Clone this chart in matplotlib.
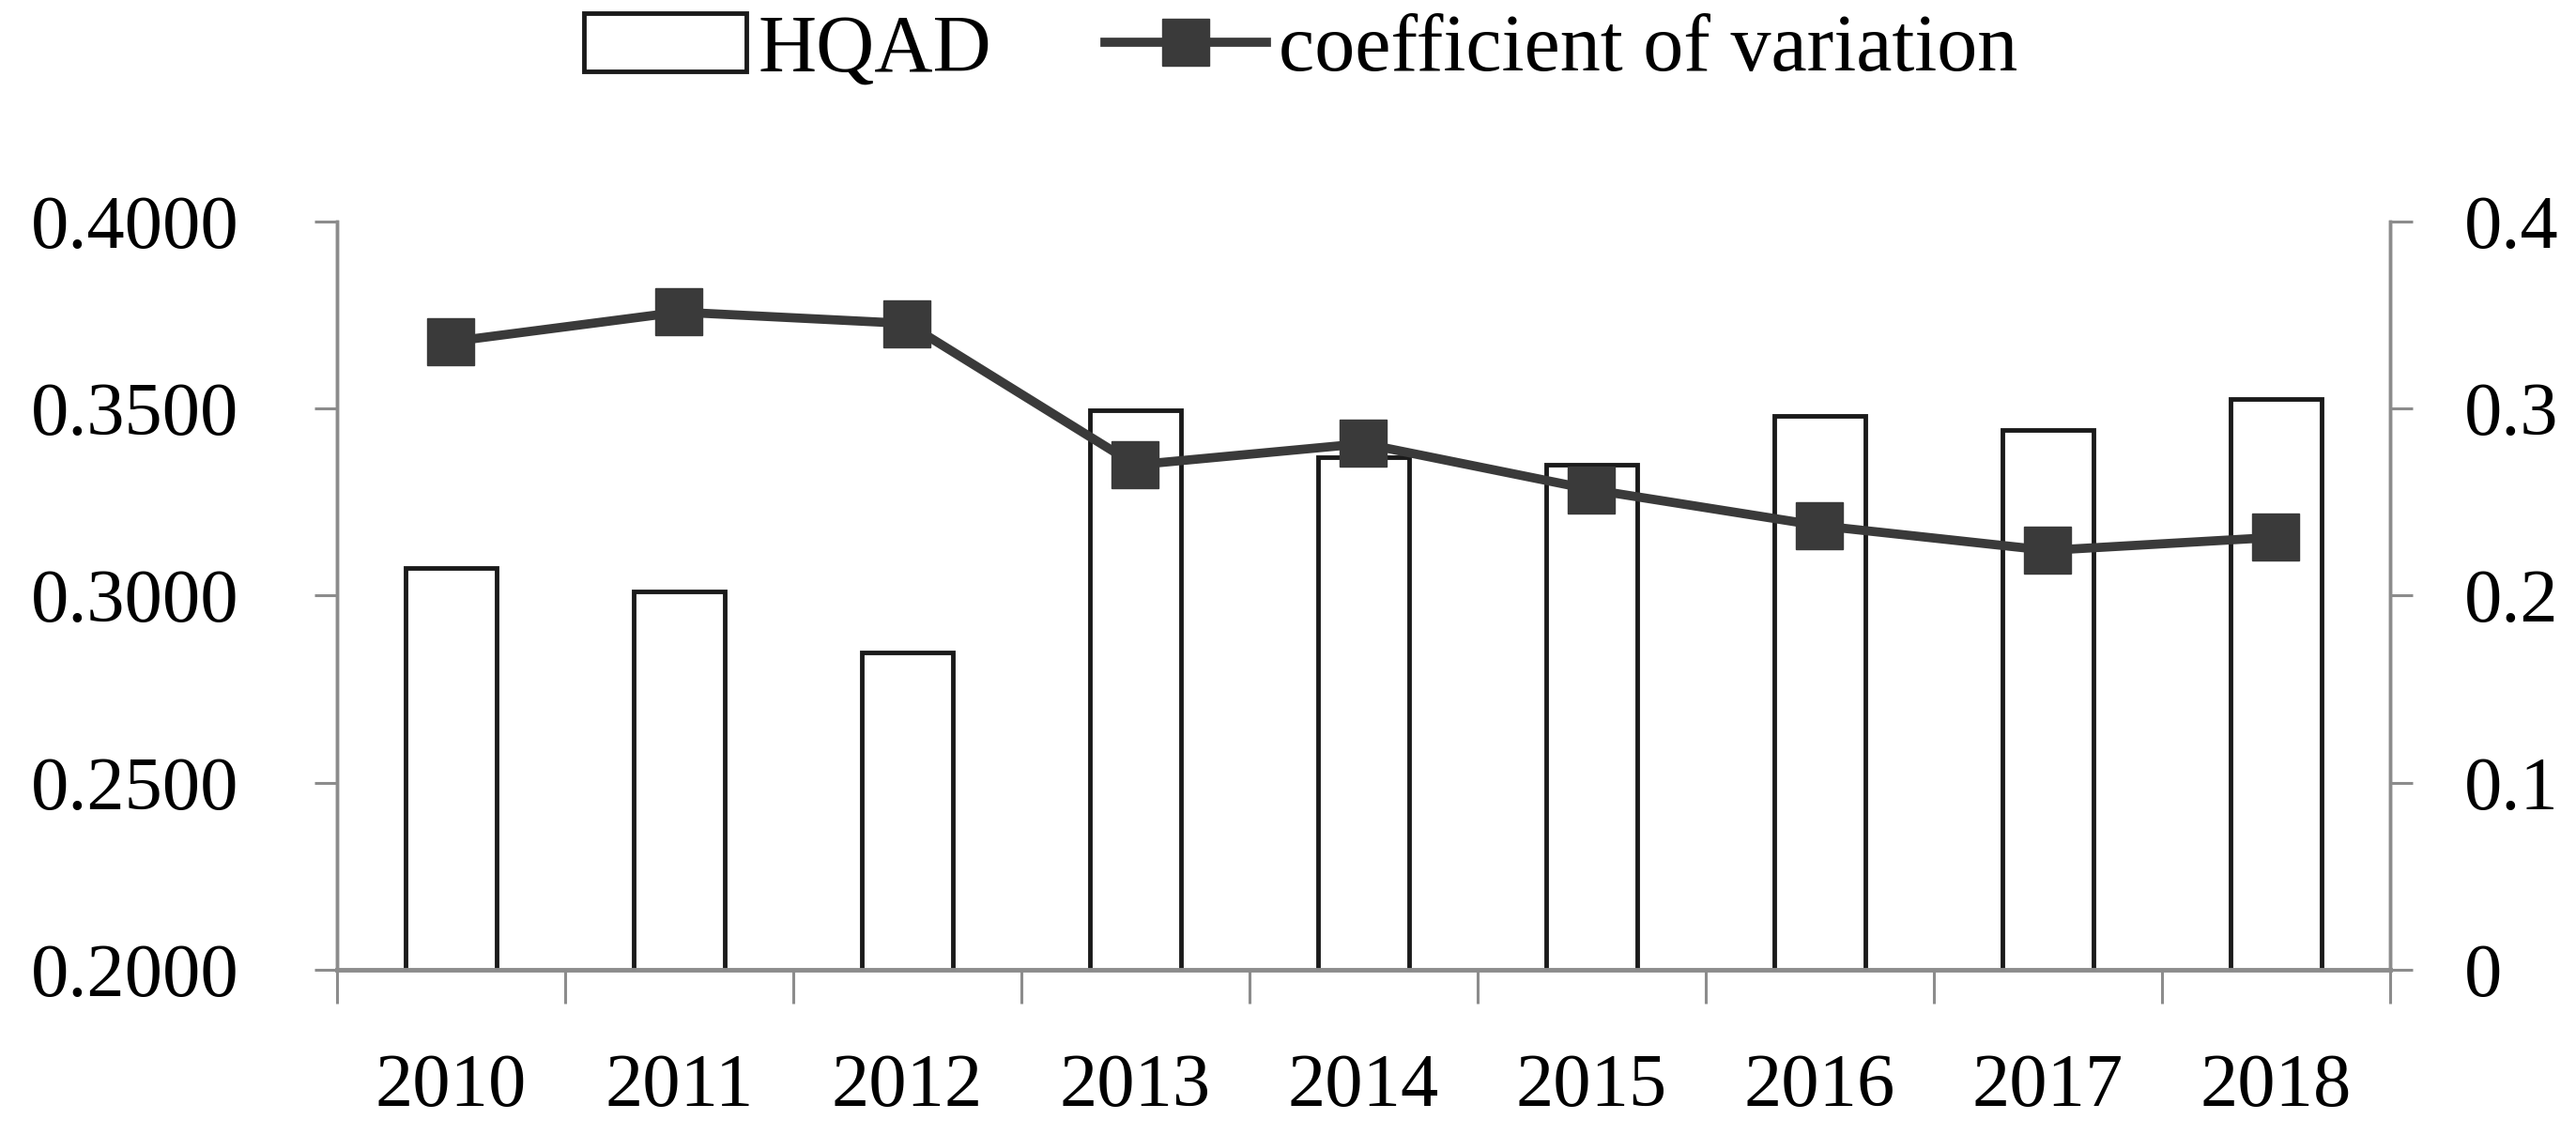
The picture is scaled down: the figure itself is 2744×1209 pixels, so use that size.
import numpy as np
import matplotlib
matplotlib.use("Agg")
import matplotlib.pyplot as plt

# data
years = ["2010", "2011", "2012", "2013", "2014", "2015", "2016", "2017", "2018"]
hqad = [0.3073, 0.3011, 0.2848, 0.3495, 0.3371, 0.3349, 0.3481, 0.3442, 0.3525]
cv = [0.3358, 0.3516, 0.3455, 0.2699, 0.2813, 0.2567, 0.2374, 0.2242, 0.2312]

left_ticks = [0.20, 0.25, 0.30, 0.35, 0.40]
left_labels = ["0.2000", "0.2500", "0.3000", "0.3500", "0.4000"]
right_ticks = [0.0, 0.1, 0.2, 0.3, 0.4]
right_labels = ["0", "0.1", "0.2", "0.3", "0.4"]

plt.rcParams['font.family'] = ['Liberation Serif', 'DejaVu Serif']
fs = 58
axis_grey = '#8c8c8c'
dark = '#3a3a3a'

fig = plt.figure(figsize=(27.44, 12.09), dpi=100)
ax = fig.add_axes([0.1308, 0.1456, 0.9278 - 0.1308, 0.8048 - 0.1456])
ax2 = ax.twinx()

x = np.arange(len(years))
bars = ax.bar(x, hqad, width=0.40, color='white', edgecolor='#1a1a1a',
              linewidth=3.5, label='HQAD', zorder=2)
line, = ax2.plot(x, cv, color=dark, linewidth=7, marker='s', markersize=36,
                 markerfacecolor=dark, markeredgecolor=dark,
                 label='coefficient of variation', zorder=3)

ax.set_xlim(-0.5, len(years) - 0.5)
ax.set_ylim(0.2, 0.4)
ax2.set_ylim(0.0, 0.4)

ax.set_yticks(left_ticks)
ax.set_yticklabels(left_labels)
ax2.set_yticks(right_ticks)
ax2.set_yticklabels(right_labels)

# category labels at centres, tick marks at category boundaries
ax.set_xticks(x)
ax.set_xticklabels(years)
ax.set_xticks(np.arange(len(years) + 1) - 0.5, minor=True)
ax.tick_params(axis='x', which='major', length=0, pad=64, labelsize=fs)
ax.tick_params(axis='x', which='minor', length=26, width=2.2, color=axis_grey,
               direction='out')
ax.tick_params(axis='y', length=17, width=2.2, color=axis_grey, pad=58,
               labelsize=fs, direction='out')
ax2.tick_params(axis='y', length=17, width=2.2, color=axis_grey, pad=40,
                labelsize=fs, direction='out')

for a in (ax, ax2):
    a.spines['top'].set_visible(False)
    for s in ('left', 'right', 'bottom'):
        a.spines[s].set_color(axis_grey)
        a.spines[s].set_linewidth(2.5)
ax.spines['bottom'].set_linewidth(3.5)
ax.set_zorder(ax2.get_zorder() - 1)
ax.patch.set_visible(False)

fig.legend([bars, line], ['HQAD', 'coefficient of variation'],
           loc='center', bbox_to_anchor=(0.505, 0.955), ncol=2,
           frameon=False, fontsize=62, handlelength=2.0, handleheight=0.73,
           handletextpad=0.15, columnspacing=1.4, markerscale=1.0)

fig.savefig("out.png", dpi=100)
